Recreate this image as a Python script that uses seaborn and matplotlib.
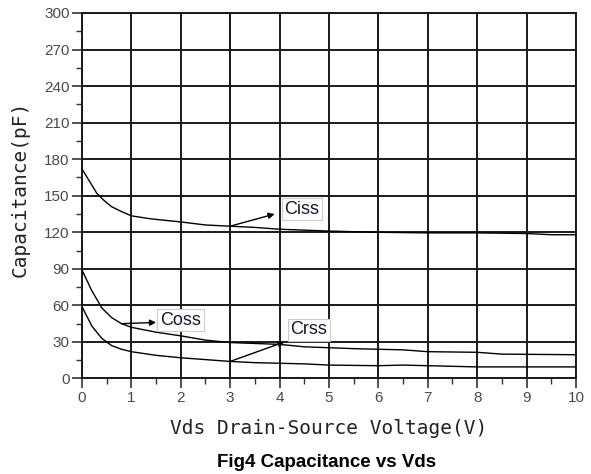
import matplotlib
matplotlib.use("Agg")
import matplotlib.pyplot as plt
from matplotlib.ticker import MultipleLocator
import seaborn as sns
import pandas as pd

# Capacitance vs drain-source voltage (pF)
vds_ciss = [0, 0.15, 0.3, 0.45, 0.6, 0.8, 1.0, 1.4, 2.0, 2.5, 3.0, 3.5, 4.0, 5.0, 6.0, 7.0, 8.0, 9.0, 9.5, 10]
ciss = [172, 162, 152, 146, 141, 137, 133.5, 131, 128.5, 126, 125, 124, 122.5, 121, 120, 119.5, 119.5, 119, 118, 118]

vds_coss = [0, 0.2, 0.4, 0.6, 0.8, 1.0, 1.5, 2.0, 2.5, 3.0, 4.0, 4.5, 5.5, 6.5, 7.0, 8.0, 8.5, 10]
coss = [89, 72, 58, 50, 45, 42, 38, 35, 31.5, 29.5, 28, 26, 24.5, 23.5, 22, 21.5, 20, 19.5]

vds_crss = [0, 0.2, 0.4, 0.6, 0.8, 1.0, 1.5, 2.0, 2.5, 3.0, 3.5, 4.5, 5.0, 6.0, 6.5, 7.0, 8.0, 10]
crss = [59, 43, 33, 27, 24, 22, 19, 17, 15.5, 14, 13, 12, 11, 10.5, 11, 10.5, 9.5, 9.5]

# Callout labels: (name, curve point, arrow tip, text position)
labels = ["Ciss", "Coss", "Crss"]
label_from = [(3.0, 125), (0.8, 45), (3.0, 14)]
label_tip = [(3.9, 135), (1.5, 46), (4.1, 30)]
label_text = [(4.1, 139), (1.58, 48), (4.22, 40)]

sns.set_theme(style="white")
plt.rcParams["font.family"] = ["Liberation Sans", "DejaVu Sans"]

fig = plt.figure(figsize=(5.91, 4.74), dpi=100)
ax = fig.add_axes([0.1387, 0.2015, 0.8359, 0.7711])

for xs, ys in [(vds_ciss, ciss), (vds_coss, coss), (vds_crss, crss)]:
    df = pd.DataFrame({"Vds": xs, "C": ys})
    sns.lineplot(data=df, x="Vds", y="C", ax=ax, color="black", linewidth=1.0,
                 estimator=None, sort=False, zorder=3)

ax.set_xlim(0, 10)
ax.set_ylim(0, 300)
ax.xaxis.set_major_locator(MultipleLocator(1))
ax.xaxis.set_minor_locator(MultipleLocator(0.5))
ax.yaxis.set_major_locator(MultipleLocator(30))
ax.yaxis.set_minor_locator(MultipleLocator(15))
ax.grid(True, which="major", color="#1a1a1a", linewidth=1.4)
ax.set_axisbelow(True)
for s in ax.spines.values():
    s.set_color("#1a1a1a")
    s.set_linewidth(1.4)
ax.tick_params(which="major", direction="out", length=7, width=1.2, color="#333333",
               labelsize=11, labelcolor="#4a4a4a", bottom=True, left=True, pad=2)
ax.tick_params(which="minor", direction="out", length=4, width=1.0, color="#333333",
               bottom=True, left=True)

ax.set_xlabel("Vds Drain-Source Voltage(V)", family="DejaVu Sans Mono", fontsize=14,
              color="#222222", labelpad=10)
ax.set_ylabel("Capacitance(pF)", family="DejaVu Sans Mono", fontsize=14,
              color="#222222", labelpad=2)
ax.yaxis.set_label_coords(-0.105, 0.52)

for name, p0, p1, pt in zip(labels, label_from, label_tip, label_text):
    ax.annotate("", xy=p1, xytext=p0,
                arrowprops=dict(arrowstyle="-|>", color="black", lw=1.0,
                                mutation_scale=9, shrinkA=0, shrinkB=0), zorder=4)
    ax.text(pt[0], pt[1], name, fontsize=13, color="#151530", ha="left", va="center",
            zorder=5, bbox=dict(boxstyle="square,pad=0.15", facecolor="white",
                                edgecolor="#cccccc", linewidth=0.8))

fig.text(0.553, 0.025, "Fig4 Capacitance vs Vds", ha="center", va="center",
         fontsize=13.5, fontweight="bold", color="black")

fig.savefig("out.png", dpi=100)
